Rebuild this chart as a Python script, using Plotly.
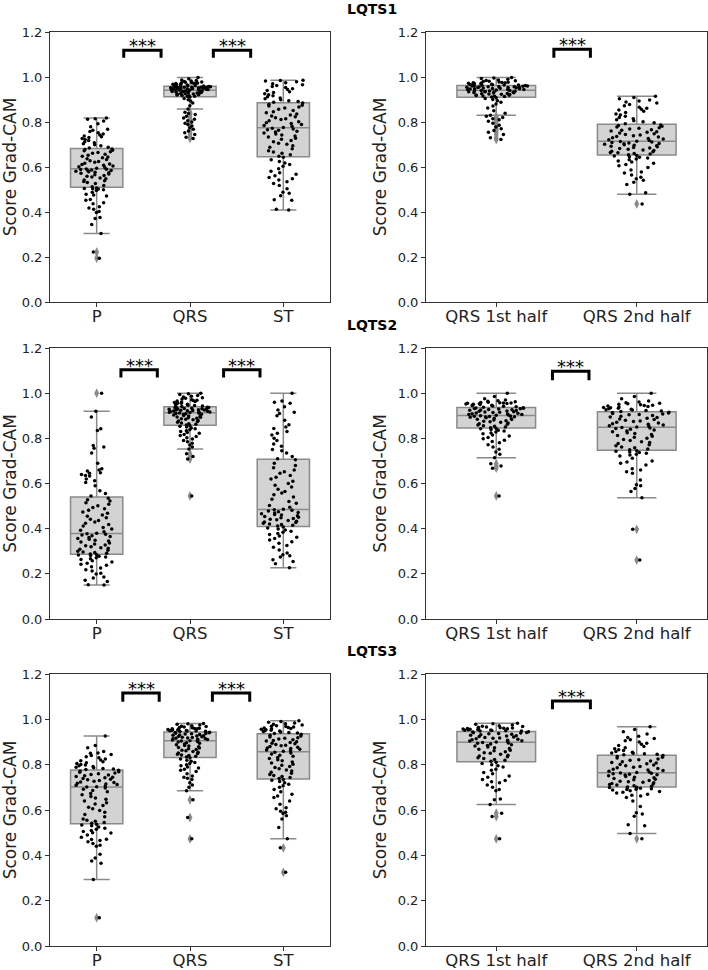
import plotly.graph_objects as go

# ---------------- data ----------------
PANEL_TITLES = ["LQTS1", "LQTS2", "LQTS3"]
WAVE_CATS = ["P", "QRS", "ST"]
HALF_CATS = ["QRS 1st half", "QRS 2nd half"]
Y_TICKS = [0.0, 0.2, 0.4, 0.6, 0.8, 1.0, 1.2]
Y_LABEL = "Score Grad-CAM"

# LQTS1 - waves
lqts1_p = [0.195, 0.222, 0.305, 0.345, 0.371, 0.376, 0.398, 0.402, 0.412, 0.418, 0.423, 0.437, 0.441, 0.452, 0.456, 0.471, 0.476, 0.479, 0.488, 0.496, 0.499, 0.502, 0.503, 0.505, 0.507,
           0.512, 0.518, 0.527, 0.531, 0.536, 0.539, 0.542, 0.548, 0.551, 0.556, 0.559, 0.562, 0.566, 0.569, 0.572, 0.574, 0.577, 0.579, 0.581, 0.583, 0.585, 0.587, 0.589, 0.590, 0.591,
           0.594, 0.598, 0.601, 0.604, 0.608, 0.611, 0.613, 0.617, 0.621, 0.624, 0.628, 0.633, 0.637, 0.641, 0.645, 0.648, 0.652, 0.657, 0.661, 0.664, 0.668, 0.672, 0.675, 0.678, 0.680,
           0.684, 0.688, 0.694, 0.699, 0.703, 0.708, 0.712, 0.718, 0.722, 0.727, 0.731, 0.734, 0.738, 0.742, 0.747, 0.752, 0.758, 0.763, 0.768, 0.779, 0.792, 0.805, 0.812, 0.815, 0.818]
lqts1_qrs = [0.727, 0.732, 0.745, 0.752, 0.760, 0.768, 0.775, 0.782, 0.789, 0.795, 0.800, 0.806, 0.812, 0.818, 0.826, 0.833, 0.838, 0.843, 0.858, 0.872, 0.884, 0.893, 0.899, 0.905, 0.911,
             0.914, 0.915, 0.917, 0.918, 0.920, 0.921, 0.922, 0.924, 0.925, 0.926, 0.927, 0.929, 0.930, 0.931, 0.932, 0.933, 0.934, 0.935, 0.936, 0.937, 0.938, 0.939, 0.939, 0.940, 0.941,
             0.942, 0.943, 0.944, 0.944, 0.945, 0.946, 0.946, 0.947, 0.948, 0.948, 0.949, 0.950, 0.950, 0.951, 0.952, 0.952, 0.953, 0.954, 0.954, 0.955, 0.956, 0.956, 0.957, 0.957, 0.958,
             0.959, 0.960, 0.961, 0.962, 0.963, 0.964, 0.965, 0.966, 0.967, 0.968, 0.969, 0.970, 0.971, 0.972, 0.973, 0.974, 0.975, 0.977, 0.978, 0.980, 0.982, 0.984, 0.987, 0.992, 0.998]
lqts1_st = [0.409, 0.412, 0.452, 0.455, 0.472, 0.483, 0.488, 0.503, 0.518, 0.527, 0.535, 0.542, 0.548, 0.553, 0.561, 0.568, 0.574, 0.581, 0.592, 0.603, 0.611, 0.618, 0.624, 0.632, 0.643,
            0.648, 0.655, 0.661, 0.667, 0.672, 0.681, 0.688, 0.694, 0.701, 0.706, 0.712, 0.718, 0.723, 0.728, 0.733, 0.738, 0.742, 0.747, 0.751, 0.756, 0.759, 0.763, 0.766, 0.769, 0.772,
            0.776, 0.781, 0.785, 0.789, 0.793, 0.797, 0.801, 0.806, 0.811, 0.815, 0.819, 0.823, 0.827, 0.831, 0.836, 0.841, 0.846, 0.851, 0.857, 0.862, 0.867, 0.871, 0.874, 0.879, 0.884,
            0.888, 0.891, 0.895, 0.899, 0.903, 0.907, 0.912, 0.917, 0.921, 0.926, 0.931, 0.935, 0.940, 0.944, 0.948, 0.953, 0.958, 0.962, 0.966, 0.970, 0.975, 0.979, 0.982, 0.984, 0.986]
# LQTS1 - QRS halves
lqts1_h1 = [0.722, 0.730, 0.745, 0.755, 0.762, 0.770, 0.778, 0.786, 0.795, 0.803, 0.810, 0.815, 0.820, 0.826, 0.830, 0.839, 0.850, 0.862, 0.871, 0.880, 0.888, 0.895, 0.900, 0.904, 0.908,
            0.911, 0.913, 0.914, 0.916, 0.918, 0.919, 0.920, 0.922, 0.923, 0.925, 0.926, 0.927, 0.929, 0.930, 0.931, 0.932, 0.933, 0.934, 0.935, 0.936, 0.937, 0.938, 0.939, 0.940, 0.940,
            0.942, 0.943, 0.944, 0.945, 0.946, 0.947, 0.948, 0.948, 0.949, 0.950, 0.951, 0.952, 0.953, 0.953, 0.954, 0.955, 0.956, 0.957, 0.957, 0.958, 0.959, 0.960, 0.960, 0.961, 0.962,
            0.963, 0.964, 0.965, 0.966, 0.967, 0.968, 0.969, 0.970, 0.971, 0.972, 0.973, 0.974, 0.975, 0.976, 0.977, 0.978, 0.980, 0.981, 0.983, 0.985, 0.987, 0.990, 0.993, 0.996, 0.998]
lqts1_h2 = [0.436, 0.479, 0.486, 0.522, 0.532, 0.541, 0.548, 0.555, 0.565, 0.573, 0.578, 0.587, 0.598, 0.606, 0.611, 0.617, 0.622, 0.627, 0.632, 0.636, 0.640, 0.643, 0.646, 0.649, 0.651,
            0.655, 0.658, 0.660, 0.663, 0.665, 0.668, 0.670, 0.673, 0.676, 0.679, 0.682, 0.684, 0.687, 0.690, 0.692, 0.695, 0.697, 0.699, 0.701, 0.703, 0.705, 0.707, 0.709, 0.711, 0.713,
            0.715, 0.718, 0.721, 0.724, 0.727, 0.730, 0.733, 0.736, 0.739, 0.742, 0.745, 0.748, 0.751, 0.754, 0.757, 0.760, 0.763, 0.766, 0.769, 0.772, 0.775, 0.778, 0.781, 0.784, 0.787,
            0.792, 0.797, 0.801, 0.806, 0.810, 0.815, 0.820, 0.826, 0.831, 0.836, 0.842, 0.848, 0.853, 0.857, 0.861, 0.866, 0.872, 0.878, 0.884, 0.889, 0.893, 0.898, 0.903, 0.909, 0.914]

# LQTS2 - waves
lqts2_p = [0.150, 0.152, 0.166, 0.172, 0.181, 0.186, 0.199, 0.203, 0.212, 0.218, 0.226, 0.231, 0.238, 0.242, 0.247, 0.252, 0.258, 0.263, 0.267, 0.271, 0.274, 0.278, 0.281, 0.283, 0.285,
           0.288, 0.291, 0.294, 0.297, 0.300, 0.304, 0.309, 0.313, 0.316, 0.320, 0.324, 0.328, 0.332, 0.336, 0.341, 0.345, 0.349, 0.353, 0.357, 0.361, 0.365, 0.369, 0.372, 0.375, 0.378,
           0.380, 0.386, 0.393, 0.399, 0.405, 0.412, 0.418, 0.424, 0.430, 0.436, 0.442, 0.448, 0.455, 0.461, 0.468, 0.474, 0.481, 0.488, 0.494, 0.501, 0.508, 0.515, 0.522, 0.528, 0.535,
           0.545, 0.556, 0.568, 0.590, 0.604, 0.612, 0.620, 0.633, 0.635, 0.640, 0.645, 0.648, 0.655, 0.660, 0.665, 0.690, 0.735, 0.756, 0.762, 0.768, 0.835, 0.842, 0.895, 0.920, 1.000]
lqts2_qrs = [0.545, 0.708, 0.720, 0.732, 0.753, 0.762, 0.771, 0.778, 0.785, 0.790, 0.797, 0.803, 0.808, 0.812, 0.817, 0.822, 0.826, 0.830, 0.834, 0.838, 0.842, 0.846, 0.850, 0.853, 0.856,
             0.859, 0.862, 0.865, 0.868, 0.871, 0.874, 0.877, 0.879, 0.882, 0.884, 0.887, 0.889, 0.891, 0.893, 0.895, 0.897, 0.899, 0.901, 0.903, 0.905, 0.907, 0.909, 0.910, 0.911, 0.912,
             0.914, 0.915, 0.916, 0.917, 0.918, 0.919, 0.920, 0.921, 0.922, 0.923, 0.924, 0.925, 0.926, 0.927, 0.928, 0.929, 0.930, 0.931, 0.932, 0.933, 0.934, 0.935, 0.936, 0.937, 0.938,
             0.941, 0.943, 0.945, 0.947, 0.949, 0.951, 0.953, 0.955, 0.957, 0.959, 0.961, 0.963, 0.965, 0.967, 0.969, 0.971, 0.974, 0.977, 0.980, 0.983, 0.986, 0.990, 0.994, 0.997, 1.000]
lqts2_st = [0.227, 0.245, 0.255, 0.262, 0.275, 0.280, 0.285, 0.292, 0.305, 0.318, 0.325, 0.335, 0.342, 0.350, 0.356, 0.362, 0.368, 0.374, 0.379, 0.384, 0.389, 0.394, 0.399, 0.403, 0.407,
            0.412, 0.415, 0.418, 0.421, 0.424, 0.427, 0.430, 0.433, 0.436, 0.439, 0.442, 0.445, 0.448, 0.451, 0.454, 0.457, 0.460, 0.463, 0.466, 0.469, 0.472, 0.475, 0.478, 0.481, 0.484,
            0.486, 0.495, 0.503, 0.512, 0.520, 0.530, 0.540, 0.550, 0.558, 0.565, 0.575, 0.585, 0.592, 0.600, 0.610, 0.620, 0.628, 0.635, 0.645, 0.652, 0.660, 0.670, 0.680, 0.690, 0.705,
            0.710, 0.720, 0.735, 0.745, 0.750, 0.765, 0.775, 0.790, 0.800, 0.815, 0.822, 0.830, 0.843, 0.850, 0.860, 0.880, 0.900, 0.910, 0.915, 0.925, 0.940, 0.955, 0.960, 0.965, 1.000]
# LQTS2 - QRS halves
lqts2_h1 = [0.545, 0.668, 0.678, 0.688, 0.714, 0.730, 0.740, 0.752, 0.762, 0.772, 0.780, 0.786, 0.792, 0.798, 0.804, 0.810, 0.815, 0.820, 0.824, 0.828, 0.832, 0.836, 0.839, 0.842, 0.844,
            0.847, 0.850, 0.853, 0.856, 0.859, 0.862, 0.865, 0.868, 0.871, 0.873, 0.876, 0.878, 0.881, 0.883, 0.885, 0.887, 0.889, 0.891, 0.893, 0.895, 0.896, 0.897, 0.898, 0.899, 0.900,
            0.902, 0.903, 0.905, 0.906, 0.908, 0.909, 0.911, 0.912, 0.914, 0.915, 0.917, 0.918, 0.920, 0.921, 0.923, 0.924, 0.926, 0.927, 0.928, 0.930, 0.931, 0.932, 0.933, 0.934, 0.935,
            0.938, 0.940, 0.942, 0.943, 0.945, 0.947, 0.948, 0.950, 0.951, 0.952, 0.953, 0.954, 0.955, 0.956, 0.957, 0.958, 0.959, 0.960, 0.962, 0.964, 0.966, 0.970, 0.975, 0.985, 1.000]
lqts2_h2 = [0.261, 0.397, 0.537, 0.565, 0.578, 0.590, 0.595, 0.615, 0.645, 0.652, 0.660, 0.665, 0.682, 0.690, 0.695, 0.700, 0.712, 0.722, 0.726, 0.730, 0.734, 0.737, 0.740, 0.743, 0.745,
            0.749, 0.753, 0.758, 0.762, 0.767, 0.772, 0.777, 0.781, 0.785, 0.790, 0.795, 0.800, 0.805, 0.809, 0.813, 0.817, 0.821, 0.825, 0.829, 0.833, 0.837, 0.840, 0.843, 0.846, 0.848,
            0.850, 0.853, 0.856, 0.859, 0.862, 0.865, 0.868, 0.871, 0.874, 0.877, 0.880, 0.883, 0.886, 0.889, 0.892, 0.895, 0.898, 0.901, 0.904, 0.906, 0.908, 0.910, 0.912, 0.914, 0.916,
            0.919, 0.921, 0.923, 0.925, 0.927, 0.929, 0.931, 0.933, 0.935, 0.937, 0.939, 0.941, 0.943, 0.945, 0.947, 0.949, 0.951, 0.953, 0.955, 0.958, 0.961, 0.965, 0.975, 0.985, 1.000]

# LQTS3 - waves
lqts3_p = [0.125, 0.293, 0.365, 0.375, 0.388, 0.405, 0.440, 0.445, 0.452, 0.460, 0.465, 0.470, 0.471, 0.480, 0.490, 0.498, 0.500, 0.505, 0.510, 0.515, 0.520, 0.525, 0.530, 0.534, 0.537,
           0.541, 0.545, 0.550, 0.555, 0.560, 0.570, 0.580, 0.590, 0.598, 0.605, 0.612, 0.620, 0.626, 0.632, 0.640, 0.647, 0.653, 0.660, 0.667, 0.673, 0.680, 0.686, 0.692, 0.697, 0.701,
           0.703, 0.706, 0.709, 0.712, 0.715, 0.718, 0.721, 0.724, 0.727, 0.730, 0.733, 0.736, 0.739, 0.742, 0.745, 0.748, 0.751, 0.754, 0.757, 0.760, 0.763, 0.766, 0.769, 0.772, 0.775,
           0.779, 0.781, 0.783, 0.786, 0.789, 0.792, 0.795, 0.798, 0.801, 0.805, 0.809, 0.813, 0.817, 0.821, 0.825, 0.830, 0.835, 0.840, 0.845, 0.850, 0.852, 0.858, 0.875, 0.885, 0.926]
lqts3_qrs = [0.473, 0.567, 0.645, 0.685, 0.700, 0.710, 0.720, 0.735, 0.740, 0.745, 0.750, 0.760, 0.770, 0.775, 0.780, 0.785, 0.790, 0.795, 0.800, 0.805, 0.810, 0.815, 0.820, 0.825, 0.830,
             0.834, 0.837, 0.840, 0.843, 0.846, 0.849, 0.852, 0.855, 0.858, 0.861, 0.864, 0.867, 0.870, 0.873, 0.876, 0.879, 0.882, 0.885, 0.888, 0.891, 0.894, 0.897, 0.900, 0.902, 0.904,
             0.906, 0.908, 0.909, 0.911, 0.912, 0.914, 0.915, 0.917, 0.918, 0.920, 0.921, 0.923, 0.924, 0.926, 0.928, 0.930, 0.931, 0.933, 0.935, 0.936, 0.938, 0.939, 0.941, 0.942, 0.943,
             0.946, 0.947, 0.948, 0.949, 0.950, 0.951, 0.952, 0.953, 0.954, 0.955, 0.956, 0.958, 0.959, 0.960, 0.961, 0.963, 0.964, 0.966, 0.968, 0.970, 0.972, 0.975, 0.978, 0.980, 0.982]
lqts3_st = [0.325, 0.433, 0.473, 0.523, 0.560, 0.575, 0.585, 0.590, 0.595, 0.605, 0.610, 0.625, 0.640, 0.655, 0.662, 0.670, 0.680, 0.690, 0.700, 0.707, 0.714, 0.720, 0.726, 0.731, 0.735,
            0.739, 0.743, 0.748, 0.752, 0.757, 0.762, 0.767, 0.772, 0.777, 0.782, 0.787, 0.792, 0.797, 0.802, 0.807, 0.812, 0.817, 0.822, 0.827, 0.832, 0.837, 0.842, 0.847, 0.851, 0.855,
            0.859, 0.862, 0.865, 0.868, 0.871, 0.874, 0.877, 0.880, 0.883, 0.886, 0.889, 0.892, 0.895, 0.898, 0.901, 0.904, 0.907, 0.910, 0.913, 0.916, 0.919, 0.922, 0.926, 0.930, 0.934,
            0.938, 0.940, 0.942, 0.944, 0.946, 0.948, 0.950, 0.952, 0.954, 0.956, 0.958, 0.960, 0.962, 0.964, 0.966, 0.968, 0.970, 0.972, 0.975, 0.978, 0.981, 0.984, 0.987, 0.990, 0.994]
# LQTS3 - QRS halves
lqts3_h1 = [0.473, 0.571, 0.586, 0.624, 0.645, 0.648, 0.685, 0.690, 0.700, 0.710, 0.720, 0.725, 0.730, 0.735, 0.745, 0.750, 0.760, 0.765, 0.775, 0.780, 0.790, 0.795, 0.800, 0.805, 0.811,
            0.815, 0.819, 0.823, 0.827, 0.831, 0.835, 0.838, 0.842, 0.846, 0.850, 0.853, 0.857, 0.861, 0.864, 0.868, 0.871, 0.875, 0.878, 0.882, 0.885, 0.888, 0.891, 0.894, 0.896, 0.898,
            0.900, 0.902, 0.904, 0.906, 0.908, 0.910, 0.912, 0.914, 0.916, 0.918, 0.920, 0.922, 0.924, 0.926, 0.928, 0.930, 0.932, 0.934, 0.936, 0.938, 0.940, 0.941, 0.942, 0.944, 0.945,
            0.948, 0.949, 0.950, 0.951, 0.952, 0.953, 0.954, 0.955, 0.956, 0.957, 0.958, 0.959, 0.960, 0.961, 0.962, 0.963, 0.965, 0.966, 0.968, 0.970, 0.972, 0.975, 0.978, 0.981, 0.983]
lqts3_h2 = [0.473, 0.496, 0.530, 0.535, 0.572, 0.582, 0.588, 0.615, 0.640, 0.655, 0.662, 0.665, 0.670, 0.675, 0.678, 0.682, 0.685, 0.688, 0.690, 0.692, 0.694, 0.696, 0.697, 0.699, 0.700,
            0.702, 0.705, 0.707, 0.710, 0.712, 0.715, 0.717, 0.720, 0.722, 0.725, 0.727, 0.730, 0.733, 0.736, 0.739, 0.742, 0.745, 0.748, 0.751, 0.754, 0.756, 0.758, 0.760, 0.762, 0.763,
            0.765, 0.768, 0.771, 0.774, 0.777, 0.780, 0.783, 0.786, 0.789, 0.792, 0.795, 0.798, 0.801, 0.804, 0.807, 0.810, 0.813, 0.816, 0.819, 0.822, 0.825, 0.829, 0.833, 0.836, 0.840,
            0.844, 0.846, 0.848, 0.850, 0.852, 0.855, 0.858, 0.862, 0.866, 0.870, 0.875, 0.880, 0.885, 0.890, 0.895, 0.900, 0.905, 0.910, 0.915, 0.920, 0.925, 0.935, 0.945, 0.955, 0.967]

WAVE_DATA = [[lqts1_p, lqts1_qrs, lqts1_st],
             [lqts2_p, lqts2_qrs, lqts2_st],
             [lqts3_p, lqts3_qrs, lqts3_st]]
HALF_DATA = [[lqts1_h1, lqts1_h2],
             [lqts2_h1, lqts2_h2],
             [lqts3_h1, lqts3_h2]]

# significance brackets: (x_start, x_end, y_top, y_tip) in category units
WAVE_BRACKETS = [[(0.29, 0.69, 1.119, 1.086), (1.25, 1.65, 1.119, 1.086)],
                 [(0.26, 0.65, 1.104, 1.069), (1.36, 1.75, 1.104, 1.069)],
                 [(0.28, 0.67, 1.116, 1.078), (1.24, 1.64, 1.116, 1.078)]]
HALF_BRACKETS = [[(0.41, 0.67, 1.123, 1.086)],
                 [(0.40, 0.66, 1.097, 1.057)],
                 [(0.40, 0.67, 1.081, 1.045)]]
SIG_LABEL = "***"

# ---------------- styling / layout ----------------
W, H = 708, 970
X_DOMAINS = [(50 / W, 330 / W), (426 / W, 707 / W)]
ROW_PIX = [(32, 302), (348, 619), (674, 946)]
TITLE_PIX_Y = [9, 325, 651]
TITLE_PIX_X = 372

BOX_FILL = "#d3d3d3"
BOX_LINE = "#8a8a8a"
FLIER = "#8a8a8a"
SPINE = "#333333"
FONT = "DejaVu Sans"

fig = go.Figure()
layout = dict(template="none", width=W, height=H, margin=dict(l=0, r=0, t=0, b=0, pad=0),
              autosize=False, paper_bgcolor="white", plot_bgcolor="white", showlegend=False,
              boxmode="overlay", boxgap=0.2, font=dict(family=FONT, color="#222"))
shapes, annotations = [], []

ax = 0
for r in range(3):
    ydom = (1 - ROW_PIX[r][1] / H, 1 - ROW_PIX[r][0] / H)
    for c in range(2):
        ax += 1
        cats = WAVE_CATS if c == 0 else HALF_CATS
        datas = WAVE_DATA[r] if c == 0 else HALF_DATA[r]
        brackets = WAVE_BRACKETS[r] if c == 0 else HALF_BRACKETS[r]
        xa = "x" if ax == 1 else f"x{ax}"
        ya = "y" if ax == 1 else f"y{ax}"
        for cat, vals in zip(cats, datas):
            fig.add_trace(go.Box(
                x=[cat] * len(vals), y=vals, xaxis=xa, yaxis=ya,
                boxpoints="outliers", jitter=0, pointpos=0,
                fillcolor=BOX_FILL, line=dict(color=BOX_LINE, width=1.5),
                whiskerwidth=0.5,
                marker=dict(symbol="diamond-tall", color=FLIER, size=7, line=dict(width=0)),
                hoverinfo="skip"))
        for cat, vals in zip(cats, datas):
            fig.add_trace(go.Box(
                x=[cat] * len(vals), y=vals, xaxis=xa, yaxis=ya,
                boxpoints="all", jitter=0.85, pointpos=0,
                fillcolor="rgba(0,0,0,0)", line=dict(color="rgba(0,0,0,0)", width=0),
                marker=dict(color="black", size=3.5, line=dict(width=0)),
                hoverinfo="skip"))
        axis_common = dict(showline=True, mirror=True, linecolor=SPINE, linewidth=1,
                           ticks="outside", ticklen=4, tickcolor=SPINE, showgrid=False,
                           zeroline=False, automargin=False)
        layout["xaxis" if ax == 1 else f"xaxis{ax}"] = dict(
            domain=list(X_DOMAINS[c]), anchor=ya, type="category",
            categoryorder="array", categoryarray=cats, ticklabelstandoff=-5,
            range=[-0.5, len(cats) - 0.5], tickfont=dict(size=16.5, family=FONT, color="#222"),
            **axis_common)
        layout["yaxis" if ax == 1 else f"yaxis{ax}"] = dict(
            domain=list(ydom), anchor=xa, range=[0, 1.2], tickvals=Y_TICKS,
            tickformat=".1f", tickfont=dict(size=13, family=FONT, color="#222"),
            title=dict(text=Y_LABEL, font=dict(size=17, family=FONT, color="#222"), standoff=6),
            **axis_common)
        for (x0, x1, yt, yb) in brackets:
            shapes.append(dict(type="path", xref=xa, yref=ya,
                               path=f"M {x0},{yb} L {x0},{yt} L {x1},{yt} L {x1},{yb}",
                               line=dict(color="black", width=3)))
            annotations.append(dict(xref=xa, yref=ya, x=(x0 + x1) / 2, y=yt,
                                    text=SIG_LABEL, showarrow=False, yanchor="bottom",
                                    yshift=-8, font=dict(size=18, family=FONT, color="black")))
    annotations.append(dict(xref="paper", yref="paper", x=TITLE_PIX_X / W,
                            y=1 - TITLE_PIX_Y[r] / H, text=f"<b>{PANEL_TITLES[r]}</b>",
                            showarrow=False, xanchor="center", yanchor="middle",
                            font=dict(size=14, family="DejaVu Sans", color="black")))

layout["shapes"] = shapes
layout["annotations"] = annotations
fig.update_layout(**layout)
fig.write_html("out.html", config={"displayModeBar": False},
               post_script="document.body.style.margin='0';document.body.style.overflow='hidden';")
